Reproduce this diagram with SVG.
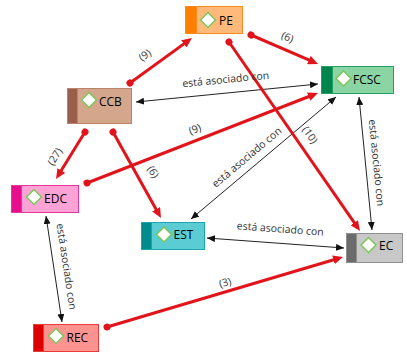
<svg xmlns="http://www.w3.org/2000/svg" width="407" height="357" viewBox="0 0 407 357">
<style>
.nl{font-family:"Open Sans","Noto Sans",sans-serif;font-size:12px;fill:#000}
.el{font-family:"Open Sans","Noto Sans",sans-serif;font-size:10.5px;fill:#333}
.dia{fill:#fff;stroke:#7cc65a;stroke-width:1.5}
.red{fill:none;stroke:#e2141b;stroke-width:3;marker-start:url(#dot);marker-end:url(#rarr)}
.blk{fill:none;stroke:#222;stroke-width:1;marker-start:url(#barr);marker-end:url(#barr)}
</style>
<defs>
<marker id="rarr" markerUnits="userSpaceOnUse" markerWidth="10" markerHeight="9" refX="3" refY="4.5" orient="auto"><path d="M0,0 L10,4.5 L0,9 z" fill="#e2141b"/></marker>
<marker id="dot" markerUnits="userSpaceOnUse" markerWidth="8" markerHeight="8" refX="4" refY="4" orient="auto"><circle cx="4" cy="4" r="3.5" fill="#e2141b"/></marker>
<marker id="barr" markerUnits="userSpaceOnUse" markerWidth="8" markerHeight="7" refX="8" refY="3.5" orient="auto-start-reverse"><path d="M0,0 L8,3.5 L0,7 z" fill="#111"/></marker>
</defs>
<rect width="407" height="357" fill="#fff"/>
<g id="connectors">
<path class="blk" d="M136,102 L318,84"/>
<path class="blk" d="M336,97 L191,219"/>
<path class="blk" d="M359,97 L372,230"/>
<path class="blk" d="M207,238 L344,248"/>
<path class="blk" d="M46,216 L62,322"/>
<path class="red" d="M130,83 L186.3,42.1"/>
<path class="red" d="M251,35 L311.6,61.2"/>
<path class="red" d="M229,42 L356,225.2"/>
<path class="red" d="M85,132 L59.7,173"/>
<path class="red" d="M113,132 L157.6,211.9"/>
<path class="red" d="M87,183 L311.5,95.5"/>
<path class="red" d="M107,327 L336.3,259"/>
<text class="el" text-anchor="middle" transform="translate(226,83) rotate(-5.6)">está asociado con</text>
<text class="el" text-anchor="middle" transform="translate(249,160) rotate(-40.1)">está asociado con</text>
<text class="el" text-anchor="middle" transform="translate(373,163) rotate(84.4)">está asociado con</text>
<text class="el" text-anchor="middle" transform="translate(280,232.5) rotate(4.2)">está asociado con</text>
<text class="el" text-anchor="middle" transform="translate(63,267) rotate(81.4)">está asociado con</text>
<text class="el" text-anchor="middle" transform="translate(147,58) rotate(-36)">(9)</text>
<text class="el" text-anchor="middle" transform="translate(286,40.5) rotate(24)">(6)</text>
<text class="el" text-anchor="middle" transform="translate(307,137) rotate(55.3)">(10)</text>
<text class="el" text-anchor="middle" transform="translate(58,158.5) rotate(-58.3)">(27)</text>
<text class="el" text-anchor="middle" transform="translate(150,173.7) rotate(60.8)">(6)</text>
<text class="el" text-anchor="middle" transform="translate(196.3,132.6) rotate(-21.3)">(9)</text>
<text class="el" text-anchor="middle" transform="translate(226,286) rotate(-16.5)">(3)</text>
</g>
<g id="PE">
<rect x="185.5" y="6.5" width="57" height="27" fill="#ffb97a" stroke="#ff8a1c"/>
<rect x="185.5" y="6.5" width="11" height="27" fill="#ff7f00" stroke="#ff8a1c"/>
<path class="dia" d="M208,12.5 L215.5,20 L208,27.5 L200.5,20 z"/>
<text class="nl" x="219" y="24.5">PE</text>
</g>
<g id="CCB">
<rect x="67.5" y="88.5" width="64" height="35" fill="#d4a78c" stroke="#b98469"/>
<rect x="67.5" y="88.5" width="10" height="35" fill="#9a5f4b" stroke="#b98469"/>
<path class="dia" d="M89,92.5 L96.5,100 L89,107.5 L81.5,100 z"/>
<text class="nl" x="99" y="105.5">CCB</text>
</g>
<g id="FCSC">
<rect x="321.5" y="66.5" width="72" height="27" fill="#8bd5a4" stroke="#22a064"/>
<rect x="321.5" y="66.5" width="11" height="27" fill="#00854c" stroke="#22a064"/>
<path class="dia" d="M343.5,71 L351,78.5 L343.5,86 L336,78.5 z"/>
<text class="nl" x="353" y="83.5">FCSC</text>
</g>
<g id="EDC">
<rect x="11.5" y="185.5" width="67" height="27" fill="#ffa3d6" stroke="#e8389a"/>
<rect x="11.5" y="185.5" width="10" height="27" fill="#e60e8c" stroke="#e8389a"/>
<path class="dia" d="M34,189.5 L41.5,197 L34,204.5 L26.5,197 z"/>
<text class="nl" x="44" y="202.5">EDC</text>
</g>
<g id="EST">
<rect x="141.5" y="222.5" width="63" height="27" fill="#5accd2" stroke="#1aa6ae"/>
<rect x="141.5" y="222.5" width="10" height="27" fill="#008c8c" stroke="#1aa6ae"/>
<path class="dia" d="M164,227 L171.5,234.5 L164,242 L156.5,234.5 z"/>
<text class="nl" x="173.5" y="239">EST</text>
</g>
<g id="EC">
<rect x="346.5" y="233.5" width="56" height="29" fill="#c8c8c8" stroke="#8f8f8f"/>
<rect x="346.5" y="233.5" width="10" height="29" fill="#6b6b6b" stroke="#8f8f8f"/>
<path class="dia" d="M368.5,237.5 L376,245 L368.5,252.5 L361,245 z"/>
<text class="nl" x="379" y="249.5">EC</text>
</g>
<g id="REC">
<rect x="33.5" y="324.5" width="65" height="27" fill="#ff938f" stroke="#e83b3b"/>
<rect x="33.5" y="324.5" width="10" height="27" fill="#dd0000" stroke="#e83b3b"/>
<path class="dia" d="M56,328.5 L63.5,336 L56,343.5 L48.5,336 z"/>
<text class="nl" x="66.5" y="341.5">REC</text>
</g>
</svg>
